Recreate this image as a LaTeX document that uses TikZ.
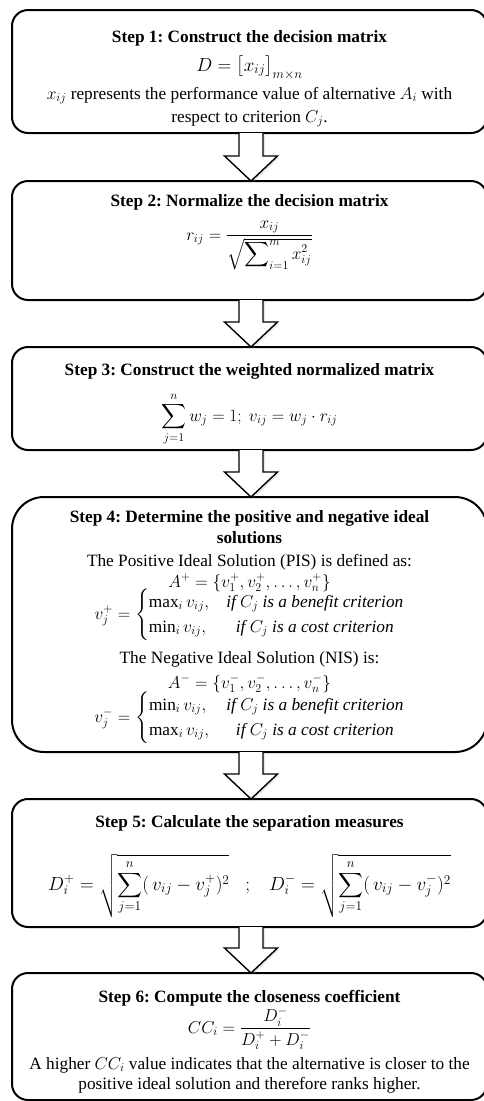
\documentclass[tikz,border=0pt]{standalone}
\usepackage{fix-cm}
\usepackage{amsmath}
\usepackage{fontspec}
\setmainfont{Liberation Serif}
\frenchspacing
\usetikzlibrary{calc,shadows}
\tikzset{
  stepbox/.style={draw=black, line width=2pt, fill=white, inner sep=0pt, outer sep=0pt,
                  minimum width=475pt},
  txt/.style={inner sep=0pt, anchor=base, font=\fontsize{17.28}{21}\selectfont},
  bigtxt/.style={inner sep=0pt, anchor=base, font=\fontsize{19}{23}\selectfont},
  ttl/.style={inner sep=0pt, anchor=base, font=\fontsize{17.28}{21}\selectfont\bfseries},
  blockarrow/.style={draw=black, line width=1.4pt, fill=white, line join=miter,
                     drop shadow={shadow xshift=2pt, shadow yshift=-1.5pt, opacity=0.18}},
}
\newcommand\stepconnector[2]{%
  \draw[blockarrow] ($(#1.south)+(-10.5,0)$) -- ($(#2.north)+(-10.5,-25)$)
    -- ($(#2.north)+(-25,-25)$) -- ($(#2.north)+(1.5,0)$)
    -- ($(#2.north)+(28,-25)$) -- ($(#2.north)+(13.5,-25)$)
    -- ($(#1.south)+(13.5,0)$);}
\begin{document}
\begin{tikzpicture}[x=1pt,y=-1pt]
\useasboundingbox (0,0) rectangle (484,1101);
\fill[white] (0,0) rectangle (484,1101);
\clip (0,0) rectangle (484,1101);

% boxes
\node[stepbox, rounded corners=16pt, minimum height=123pt] (b1) at (249.5,71.5) {};
\node[stepbox, rounded corners=16pt, minimum height=119pt] (b2) at (249.5,240.5) {};
\node[stepbox, rounded corners=16pt, minimum height=103pt] (b3) at (249.5,398.5) {};
\node[stepbox, rounded corners=32pt, minimum height=255pt] (b4) at (249.5,624.5) {};
\node[stepbox, rounded corners=16pt, minimum height=128pt] (b5) at (249.5,863) {};
\node[stepbox, rounded corners=16pt, minimum height=127pt] (b6) at (249.5,1036.5) {};

% connectors
\stepconnector{b1}{b2}
\stepconnector{b2}{b3}
\stepconnector{b3}{b4}
\stepconnector{b4}{b5}
\stepconnector{b5}{b6}

% Step 1
\node[ttl] (t1) at (249.5,42) {Step 1: Construct the decision matrix};
\node[bigtxt] (m1) at (249.5,71) {$D=\bigl[x_{ij}\bigr]_{m\times n}$};
\node[txt] (l1a) at (249.5,99) {$x_{ij}$ represents the performance value of alternative $A_i$ with};
\node[txt] (l1b) at (249.5,122) {respect to criterion $C_j$.};

% Step 2
\node[ttl] (t2) at (249.5,206) {Step 2: Normalize the decision matrix};
\node[txt] (m2) at (249.5,240) {$r_{ij}=\dfrac{x_{ij}}{\sqrt{\displaystyle\sum\nolimits_{i=1}^{m}x_{ij}^{2}}}$};

% Step 3
\node[ttl] (t3) at (249.5,375) {Step 3: Construct the weighted normalized matrix};
\node[txt] (m3) at (249.5,421) {$\displaystyle\sum_{j=1}^{n} w_j = 1;\ v_{ij} = w_j\cdot r_{ij}$};

% Step 4
\node[ttl] (t4a) at (249.5,522) {Step 4: Determine the positive and negative ideal};
\node[ttl] (t4b) at (249.5,543) {solutions};
\node[txt] (l4a) at (249.5,566) {The Positive Ideal Solution (PIS) is defined as:};
\node[txt] (m4a) at (249.5,587) {$A^{+}=\{v_1^{+},v_2^{+},\dots,v_n^{+}\}$};
\node[txt] (m4b) at (249.5,619) {$v_j^{+}=\left\{\renewcommand\arraystretch{1.2}\begin{array}{@{}l@{\quad}c@{}}
  \max_i v_{ij}, & \textit{if }C_j\textit{ is a benefit criterion}\\
  \min_i v_{ij}, & \textit{if }C_j\textit{ is a cost criterion}\end{array}\right.$};
\node[txt] (l4b) at (249.5,663) {The Negative Ideal Solution (NIS) is:};
\node[txt] (m4c) at (249.5,688) {$A^{-}=\{v_1^{-},v_2^{-},\dots,v_n^{-}\}$};
\node[txt] (m4d) at (249.5,722) {$v_j^{-}=\left\{\renewcommand\arraystretch{1.2}\begin{array}{@{}l@{\quad}c@{}}
  \min_i v_{ij}, & \textit{if }C_j\textit{ is a benefit criterion}\\
  \max_i v_{ij}, & \textit{if }C_j\textit{ is a cost criterion}\end{array}\right.$};

% Step 5
\node[ttl] (t5) at (249.5,827) {Step 5: Calculate the separation measures};
\node[bigtxt] (m5) at (249.5,890) {$\displaystyle D_i^{+} = \sqrt{\sum_{j=1}^{n}(\,v_{ij}-v_j^{+})^2}\;\;\;;\;\;\; D_i^{-} = \sqrt{\sum_{j=1}^{n}(\,v_{ij}-v_j^{-})^2}$};

% Step 6
\node[ttl] (t6) at (249.5,1002) {Step 6: Compute the closeness coefficient};
\node[txt] (m6) at (249.5,1033) {$CC_i=\dfrac{D_i^{-}}{D_i^{+}+D_i^{-}}$};
\node[txt] (l6a) at (249.5,1069) {A higher $CC_i$ value indicates that the alternative is closer to the};
\node[txt] (l6b) at (249.5,1089) {positive ideal solution and therefore ranks higher.};
\end{tikzpicture}
\end{document}
